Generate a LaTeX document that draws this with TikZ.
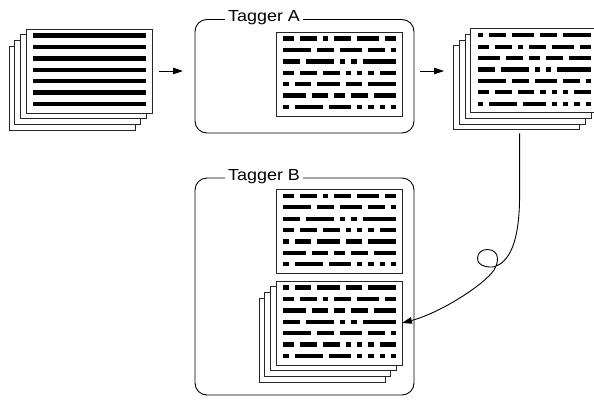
\documentclass[tikz,border=0pt]{standalone}
\usepackage{fontspec}
\newfontfamily\titlefont{Liberation Sans}[FakeStretch=1.12]
\usetikzlibrary{calc,arrows.meta}

% word lengths per text line (units), words separated by one unit
\def\patA{{2,3,1,3,4,2},{5,3,4,3,1},{3,5,1,1,6},{2,3,3,1,1,1,3},{1,3,4,3,5},{4,3,2,3,4},{1,5,4,1,1,1,1}}
\def\patB{{1,3,4,3,5},{2,3,1,3,4,2},{4,3,2,3,4},{3,5,1,1,6},{5,3,4,3,1},{2,3,3,1,1,1,3},{1,5,4,1,1,1,1}}
\def\patPlain{{20},{20},{20},{20},{20},{20},{20}}

% fill the text lines of a page node
\newcommand\dashrows[2]{%
  \foreach \row [count=\r from 0] in #2 {
    \foreach \w [remember=\nx as \px (initially 0), evaluate=\w as \nx using \px+\w+1] in \row {
      \fill ($(#1.north west)+(7.3+\px*5.67, 4.4+\r*11.4)$) rectangle ++(\w*5.67-0.4, 4.3);
    }
  }%
}

\tikzset{
  sheet/.style={draw=black!85, line width=0.8pt, fill=white, minimum width=126pt,
    minimum height=84pt, inner sep=0pt, outer sep=0pt},
  tagger/.style={draw, line width=0.9pt, rounded corners=12pt, minimum width=219pt,
    inner sep=0pt, outer sep=0pt},
  title/.style={font=\titlefont\fontsize{16}{18}\selectfont, fill=white,
    inner xsep=3pt, inner ysep=0pt, anchor=base west},
  arr/.style={line width=0.9pt, -{Triangle[length=10pt,width=6.5pt]}},
}

\begin{document}
\begin{tikzpicture}[x=1pt, y=-1pt]
\useasboundingbox (0,0) rectangle (594,399);
\clip (0,0) rectangle (594,399);

% tagger frames
\node[tagger, minimum height=113.5pt] (ta) at (304.5,76.25) {};
\node[title] (ta-title) at ([xshift=30pt, yshift=-2.2pt]ta.north west) {Tagger A};
\node[tagger, minimum height=217pt] (tb) at (304.5,286.5) {};
\node[title] (tb-title) at ([xshift=30pt, yshift=-2.2pt]tb.north west) {Tagger B};

% input stack (plain text)
\node[sheet] (l4) at (72.0,88.1) {};
\node[sheet] (l3) at (77.7,82.4) {};
\node[sheet] (l2) at (83.4,76.7) {};
\node[sheet] (l1) at (89.0,71.0) {};
\dashrows{l1}{\patPlain}

% page inside tagger A
\node[sheet] (ta-page) at (339,74) {};
\dashrows{ta-page}{\patA}

% output stack (tagged text)
\node[sheet] (r4) at (516.6,87.8) {};
\node[sheet] (r3) at (522.3,82.1) {};
\node[sheet] (r2) at (528.0,76.4) {};
\node[sheet] (r1) at (533.7,70.7) {};
\dashrows{r1}{\patB}

% pages inside tagger B
\node[sheet] (tb-page) at (339,231.3) {};
\dashrows{tb-page}{\patA}
\node[sheet] (b4) at (321.9,340.1) {};
\node[sheet] (b3) at (327.6,334.4) {};
\node[sheet] (b2) at (333.3,328.7) {};
\node[sheet] (b1) at (339,323) {};
\dashrows{b1}{\patB}

% flow
\draw[arr, shorten <=7pt, shorten >=12pt] (l1.east) -- (l1.east -| ta.west);
\draw[arr, shorten <=6pt, shorten >=9.5pt] (l1.east -| ta.east) -- (l1.east -| r4.west);
\draw[arr] ([xshift=3pt, yshift=-3.5pt]r4.south) -- (519.6,195)
  .. controls (519.6,245) and (508,262) .. (495,266.5)
  .. controls (491,267.9) and (477.5,267) .. (477.5,258.5)
  .. controls (477.5,252.5) and (482,249.5) .. (487.5,249.5)
  .. controls (493,249.5) and (497.5,253) .. (497.5,258.5)
  .. controls (497.5,263) and (496,266.5) .. (494,270)
  .. controls (484,285) and (440,313) .. (b1.east);
\end{tikzpicture}
\end{document}
